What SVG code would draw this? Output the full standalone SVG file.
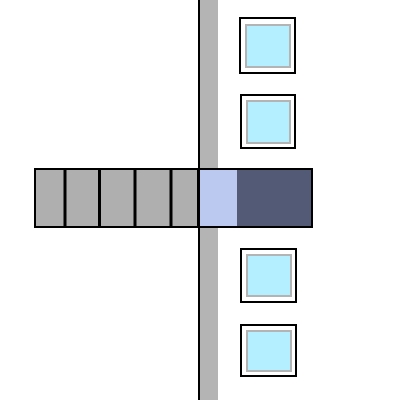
<svg xmlns="http://www.w3.org/2000/svg" width="400" height="400" viewBox="0 0 400 400">
<style>
.frame{fill:#fff;stroke:#000;stroke-width:2}
.pane{fill:#b3efff;stroke:#b4b4b4;stroke-width:2}
.div{stroke:#000;stroke-width:3}
</style>
<rect width="400" height="400" fill="#fff"/>
<g id="wall">
<rect x="199" y="0" width="19" height="400" fill="#b4b4b4"/>
<line x1="199" y1="0" x2="199" y2="400" stroke="#000" stroke-width="2"/>
</g>
<g id="win1"><rect class="frame" x="240" y="18" width="55" height="55"/><rect class="pane" x="246" y="25" width="44" height="42"/></g>
<g id="win2"><rect class="frame" x="241" y="95" width="54" height="53"/><rect class="pane" x="247" y="101" width="43" height="42"/></g>
<g id="win3"><rect class="frame" x="241" y="249" width="55" height="53"/><rect class="pane" x="247" y="255" width="44" height="41"/></g>
<g id="win4"><rect class="frame" x="241" y="325" width="55" height="51"/><rect class="pane" x="247" y="331" width="44" height="40"/></g>
<g id="strip">
<rect x="35" y="169" width="164" height="58" fill="#afafaf"/>
<rect x="199" y="169" width="38" height="58" fill="#bbc8ef"/>
<rect x="237" y="169" width="75" height="58" fill="#525a75"/>
<line class="div" x1="65" y1="169" x2="65" y2="227"/>
<line class="div" x1="99.5" y1="169" x2="99.5" y2="227"/>
<line class="div" x1="135" y1="169" x2="135" y2="227"/>
<line class="div" x1="171" y1="169" x2="171" y2="227"/>
<line class="div" x1="198.5" y1="169" x2="198.5" y2="227"/>
<rect x="35" y="169" width="277" height="58" fill="none" stroke="#000" stroke-width="2"/>
</g>
</svg>
